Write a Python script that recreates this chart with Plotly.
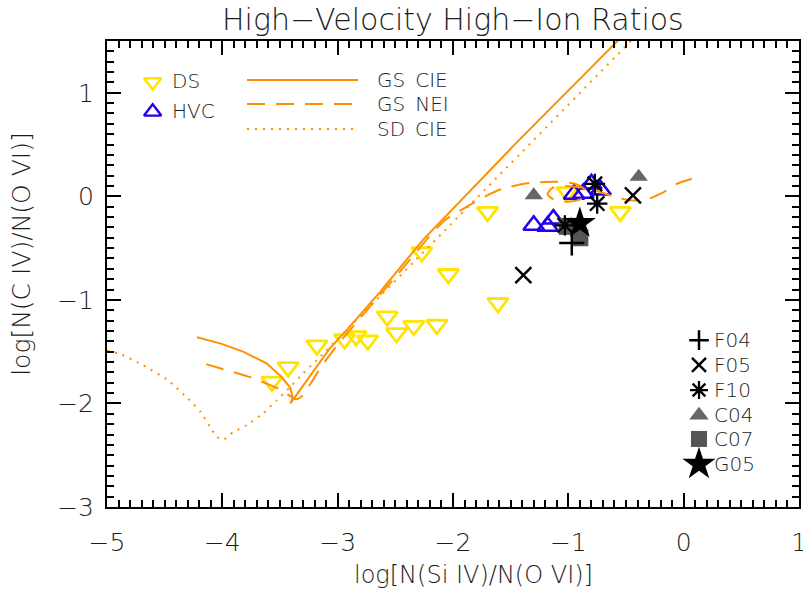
import plotly.graph_objects as go

# ---- observed sight lines: log N(Si IV)/N(O VI) vs log N(C IV)/N(O VI) ----
ds_x = [-3.57, -3.43, -3.18, -2.94, -2.84, -2.74, -2.57, -2.49, -2.34, -2.14,
        -2.27, -2.04, -1.61, -1.70, -1.01, -0.55]
ds_y = [-1.79, -1.65, -1.44, -1.38, -1.35, -1.39, -1.16, -1.32, -1.25, -1.24,
        -0.54, -0.75, -1.03, -0.15, 0.04, -0.15]

hvc_x = [-1.30, -1.18, -1.13, -0.95, -0.87, -0.80, -0.72]
hvc_y = [-0.28, -0.29, -0.22, 0.02, 0.03, 0.12, 0.06]

f04_x = [-0.97]
f04_y = [-0.45]
f05_x = [-1.39, -0.44]
f05_y = [-0.76, 0.01]
f10_x = [-1.03, -0.75, -0.77]
f10_y = [-0.28, -0.07, 0.12]
c04_x = [-1.30, -0.39]
c04_y = [0.01, 0.19]
c07_x = [-1.01, -0.90]
c07_y = [-0.29, -0.40]
g05_x = [-0.90]
g05_y = [-0.26]

# ---- model tracks ----
gs_cie_x = [-4.22, -4.02, -3.82, -3.62, -3.49, -3.41, -3.39, -3.41,
            -3.07, -2.92, -2.63, -2.26, -1.43, -0.52]
gs_cie_y = [-1.36, -1.42, -1.50, -1.61, -1.74, -1.85, -1.95, -2.00,
            -1.47, -1.29, -0.92, -0.42, 0.54, 1.56]

gs_nei_x = [-4.14, -3.99, -3.75, -3.51, -3.41, -3.36, -3.32, -3.28, -3.23,
            -3.14, -2.99, -2.50, -2.08, -1.88, -1.72, -1.58, -1.33, -1.10,
            -0.94, -0.85, -0.86, -0.98, -1.11, -1.18, -1.14, -1.03, -0.81,
            -0.61, -0.46, -0.32, -0.19, -0.06, 0.07]
gs_nei_y = [-1.62, -1.67, -1.75, -1.86, -1.93, -1.96, -1.94, -1.89, -1.80,
            -1.64, -1.42, -0.78, -0.24, -0.10, 0.00, 0.07, 0.13, 0.14,
            0.12, 0.06, -0.01, -0.05, -0.04, 0.02, 0.08, 0.10, 0.07,
            0.00, -0.04, -0.03, 0.03, 0.12, 0.17]

sd_cie_x = [-5.00, -4.89, -4.69, -4.48, -4.30, -4.19, -4.11, -4.05, -3.99,
            -3.91, -3.79, -3.64, -3.53, -3.41, -3.30, -3.18, -2.08, -0.44]
sd_cie_y = [-1.49, -1.52, -1.63, -1.77, -1.95, -2.08, -2.22, -2.32, -2.35,
            -2.28, -2.21, -2.09, -1.97, -1.84, -1.71, -1.58, -0.34, 1.52]

x_ticks = [-5, -4, -3, -2, -1, 0, 1]
y_ticks = [-3, -2, -1, 0, 1]

FONT = "DejaVu Sans"
WEIGHT = 200
INK = "#1c1c1c"
YELLOW = "#FFE400"
BLUE = "#2200EE"
ORANGE = "#FF9100"
GRAY = "#666666"
DARKGRAY = "#555555"


def txt(size):
    return dict(family=FONT, size=size, color=INK, weight=WEIGHT)


fig = go.Figure()

# observed points (underneath the model tracks)
fig.add_trace(go.Scatter(x=ds_x, y=ds_y, mode="markers", name="DS",
                         marker=dict(symbol="triangle-down-open", size=18, color=YELLOW,
                                     line=dict(width=2.8, color=YELLOW))))
fig.add_trace(go.Scatter(x=hvc_x, y=hvc_y, mode="markers", name="HVC",
                         marker=dict(symbol="triangle-up-open", size=18, color=BLUE,
                                     line=dict(width=2.5, color=BLUE))))

# model curves
fig.add_trace(go.Scatter(x=gs_cie_x, y=gs_cie_y, mode="lines", name="GS CIE",
                         line=dict(color=ORANGE, width=2)))
fig.add_trace(go.Scatter(x=gs_nei_x, y=gs_nei_y, mode="lines", name="GS NEI",
                         line=dict(color=ORANGE, width=2, dash="18px,11px",
                                   shape="spline", smoothing=0.7)))
fig.add_trace(go.Scatter(x=sd_cie_x, y=sd_cie_y, mode="lines", name="SD CIE",
                         line=dict(color=ORANGE, width=2, dash="2px,6px",
                                   shape="spline", smoothing=0.5)))

# literature samples
fig.add_trace(go.Scatter(x=c04_x, y=c04_y, mode="markers", name="C04",
                         marker=dict(symbol="triangle-up", size=16, color=GRAY)))
fig.add_trace(go.Scatter(x=c07_x, y=c07_y, mode="markers", name="C07",
                         marker=dict(symbol="square", size=17, color=DARKGRAY)))
fig.add_trace(go.Scatter(x=f04_x, y=f04_y, mode="markers", name="F04",
                         marker=dict(symbol="cross-thin", size=18, color="black",
                                     line=dict(width=2.5, color="black"))))
fig.add_trace(go.Scatter(x=f05_x, y=f05_y, mode="markers", name="F05",
                         marker=dict(symbol="x-thin", size=16, color="black",
                                     line=dict(width=2.5, color="black"))))
fig.add_trace(go.Scatter(x=f10_x, y=f10_y, mode="markers", name="F10",
                         marker=dict(symbol="asterisk", size=17, color="black",
                                     line=dict(width=2.3, color="black"))))
fig.add_trace(go.Scatter(x=g05_x, y=g05_y, mode="markers", name="G05",
                         marker=dict(symbol="star", size=24, color="black")))

# ---- hand-placed keys on a unit overlay axis (fractions of the plot box) ----
key_kw = dict(xaxis="x2", yaxis="y2", showlegend=False, hoverinfo="skip", cliponaxis=False)

sym_keys = [  # (x, y, marker)
    (0.066, 0.912, dict(symbol="triangle-down-open", size=15, color=YELLOW, line=dict(width=2.6, color=YELLOW))),
    (0.066, 0.848, dict(symbol="triangle-up-open", size=15, color=BLUE, line=dict(width=2.4, color=BLUE))),
    (0.8555, 0.358, dict(symbol="cross-thin", size=14, color="black", line=dict(width=2.5, color="black"))),
    (0.8555, 0.305, dict(symbol="x-thin", size=14, color="black", line=dict(width=2.5, color="black"))),
    (0.8555, 0.251, dict(symbol="asterisk", size=15, color="black", line=dict(width=2.3, color="black"))),
    (0.8555, 0.197, dict(symbol="triangle-up", size=17, color=GRAY)),
    (0.8555, 0.146, dict(symbol="square", size=16, color=DARKGRAY)),
    (0.8555, 0.092, dict(symbol="star", size=25, color="black")),
]
for kx, ky, mk in sym_keys:
    fig.add_trace(go.Scatter(x=[kx], y=[ky], mode="markers", marker=mk, **key_kw))

line_keys = [  # (y, dash)
    (0.9163, None),
    (0.8648, "18px,11px"),
    (0.8112, "2px,6px"),
]
for ky, dash in line_keys:
    ln = dict(color=ORANGE, width=2)
    if dash:
        ln["dash"] = dash
    fig.add_trace(go.Scatter(x=[0.2023, 0.3627], y=[ky, ky], mode="lines", line=ln, **key_kw))

label_keys = [  # (x, y, text)
    (0.091, 0.914, "DS"),
    (0.091, 0.849, "HVC"),
    (0.3873, 0.916, "GS\u2002CIE"),
    (0.3873, 0.865, "GS\u2002NEI"),
    (0.3873, 0.811, "SD\u2002CIE"),
    (0.8743, 0.358, "F04"),
    (0.8743, 0.305, "F05"),
    (0.8743, 0.251, "F10"),
    (0.8743, 0.197, "C04"),
    (0.8743, 0.146, "C07"),
    (0.8743, 0.092, "G05"),
]
annotations = [
    dict(x=lx, y=ly, xref="paper", yref="paper", text=t, showarrow=False,
         xanchor="left", yanchor="middle", font=txt(20))
    for lx, ly, t in label_keys
]

# titles
annotations += [
    dict(x=0.5, y=1.047, xref="paper", yref="paper", text="High\u2212Velocity High\u2212Ion Ratios",
         showarrow=False, xanchor="center", yanchor="middle", font=txt(30)),
    dict(x=0.53, y=-0.146, xref="paper", yref="paper", text="log[N(Si IV)/N(O VI)]",
         showarrow=False, xanchor="center", yanchor="middle", font=txt(24)),
    dict(x=-0.123, y=0.543, xref="paper", yref="paper", text="log[N(C IV)/N(O VI)]",
         showarrow=False, xanchor="center", yanchor="middle", textangle=-90, font=txt(25)),
]

axis_common = dict(
    showline=True, linewidth=2, linecolor="black", mirror="ticks",
    ticks="inside", ticklen=14, tickwidth=2, tickcolor="black",
    showgrid=False, zeroline=False, ticklabeloverflow="allow",
    tickfont=txt(25),
    minor=dict(ticks="inside", ticklen=7, tickwidth=1.5, tickcolor="black", dtick=0.1, showgrid=False),
)

fig.update_layout(
    width=803, height=594,
    margin=dict(l=107, r=4, t=41, b=87, autoexpand=False),
    paper_bgcolor="white", plot_bgcolor="white",
    showlegend=False,
    xaxis=dict(range=[-5, 1], tickvals=x_ticks, ticklabelstandoff=12, **axis_common),
    yaxis=dict(range=[-3, 1.5], tickvals=y_ticks, ticklabelstandoff=6, **axis_common),
    xaxis2=dict(range=[0, 1], overlaying="x", visible=False, fixedrange=True),
    yaxis2=dict(range=[0, 1], overlaying="y", visible=False, fixedrange=True),
    annotations=annotations,
)

fig.write_html("out.html")
